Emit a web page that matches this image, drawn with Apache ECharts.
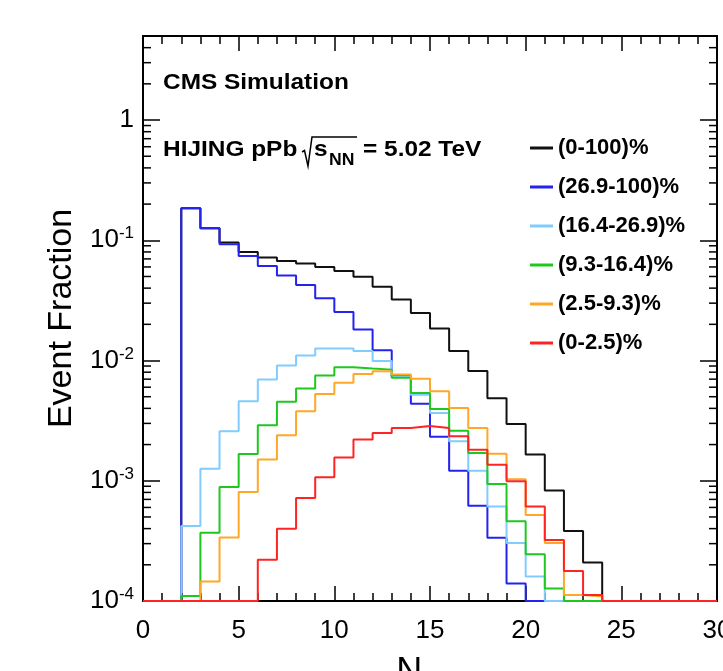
<!DOCTYPE html>
<html>
<head>
<meta charset="utf-8">
<title>Npart event fraction</title>
<script src="https://cdn.jsdelivr.net/npm/echarts@6/dist/echarts.min.js"></script>
<style>
    html, body { margin: 0; padding: 0; background: #fff; }
    #main { width: 723px; height: 671px; }
</style>
</head>
<body>
<div id="main"></div>
<script>
    // lower bin edges, bin width 1
    var binLow = [0, 1, 2, 3, 4, 5, 6, 7, 8, 9, 10, 11, 12, 13, 14, 15, 16, 17, 18, 19, 20, 21, 22, 23, 24, 25, 26, 27, 28, 29];
    var binWidth = 1;

    // event fraction per Npart bin (0 = empty bin)
    var frac0to100 = [0, 0, 0.185, 0.126, 0.096, 0.080, 0.0718, 0.0673, 0.064, 0.060, 0.0555, 0.0498, 0.0411, 0.0322, 0.0249, 0.0185, 0.0120, 0.0082, 0.00486, 0.00296, 0.00165, 0.00083, 0.000382, 0.000209, 0, 0, 0, 0, 0, 0];
    var frac26to100 = [0, 0, 0.185, 0.126, 0.0926, 0.074, 0.061, 0.051, 0.0424, 0.0329, 0.0253, 0.0181, 0.0122, 0.0074, 0.00438, 0.00232, 0.00121, 0.00062, 0.000335, 0.00014, 0, 0, 0, 0, 0, 0, 0, 0, 0, 0];
    var frac16to26 = [0, 0, 0.00042, 0.00126, 0.00258, 0.00458, 0.00695, 0.0091, 0.0110, 0.0126, 0.0126, 0.0120, 0.0099, 0.0073, 0.0052, 0.00366, 0.00213, 0.00121, 0.00061, 0.000303, 0.00016, 0, 0, 0, 0, 0, 0, 0, 0, 0];
    var frac9to16 = [0, 0, 0.00011, 0.00037, 0.000886, 0.00167, 0.00289, 0.00453, 0.00585, 0.0075, 0.0088, 0.00858, 0.0084, 0.0072, 0.00538, 0.00396, 0.00261, 0.0017, 0.00094, 0.00046, 0.000245, 0.000127, 0, 0, 0, 0, 0, 0, 0, 0];
    var frac2to9 = [0, 0, 0, 0.000145, 0.000337, 0.000805, 0.0015, 0.00239, 0.00378, 0.00527, 0.00652, 0.00774, 0.00815, 0.00764, 0.00705, 0.00555, 0.00403, 0.00275, 0.00168, 0.00103, 0.00052, 0.000303, 0.000112, 0.000109, 0, 0, 0, 0, 0, 0];
    var frac0to2 = [0, 0, 0, 0, 0, 0, 0.00022, 0.000398, 0.000718, 0.00107, 0.00156, 0.0022, 0.0025, 0.00275, 0.00285, 0.00275, 0.00234, 0.00181, 0.00136, 0.00099, 0.00061, 0.000322, 0.000178, 0.000112, 0, 0, 0, 0, 0, 0];

    var seriesNames = ['(0-100)%', '(26.9-100)%', '(16.4-26.9)%', '(9.3-16.4)%', '(2.5-9.3)%', '(0-2.5)%'];
    var seriesValues = [frac0to100, frac26to100, frac16to26, frac9to16, frac2to9, frac0to2];
    var seriesColors = ['#111111', '#2323f0', '#80ccff', '#1ec81e', '#ffa726', '#ff2424'];

    var xMin = 0, xMax = 30, xStep = 5;
    var yMin = 1e-4, yMax = 5;
    var yMinorMantissa = [2, 3, 4, 5, 6, 7, 8, 9];

    var fontFamily = '"Liberation Sans", Arial, Helvetica, sans-serif';

    function stepData(vals) {
        var pts = [];
        for (var i = 0; i < vals.length; i++) {
            pts.push([binLow[i], vals[i] > 0 ? vals[i] : yMin]);
        }
        pts.push([binLow[vals.length - 1] + binWidth, pts[pts.length - 1][1]]);
        return pts;
    }

    var minorTicks = [];
    for (var d = -4; d <= 0; d++) {
        for (var m = 0; m < yMinorMantissa.length; m++) {
            var v = yMinorMantissa[m] * Math.pow(10, d);
            if (v <= yMax) minorTicks.push([xMin, v]);
        }
    }

    function logLabel(v) {
        var lg = Math.log10(v);
        var e = Math.round(lg);
        if (Math.abs(lg - e) > 1e-6) return '';
        if (e === 0) return '{b|1}';
        return '{b|10}{sup|' + e + '}';
    }

    var axisColor = '#000';
    var chart = echarts.init(document.getElementById('main'));

    var series = [];
    for (var s = 0; s < seriesNames.length; s++) {
        series.push({
            name: seriesNames[s],
            type: 'line',
            step: 'end',
            data: stepData(seriesValues[s]),
            symbol: 'none',
            clip: false,
            color: seriesColors[s],
            lineStyle: { color: seriesColors[s], width: 2 },
            z: 3 + s
        });
    }
    series.push({
        name: 'minorTicks',
        type: 'custom',
        silent: true,
        z: 10,
        data: minorTicks,
        encode: { x: 0, y: 1 },
        renderItem: function (params, api) {
            var v = api.value(1);
            var pl = api.coord([xMin, v]);
            var pr = api.coord([xMax, v]);
            return {
                type: 'group',
                children: [
                    { type: 'line', shape: { x1: pl[0], y1: pl[1], x2: pl[0] + 8, y2: pl[1] }, style: { stroke: axisColor, lineWidth: 1.5 } },
                    { type: 'line', shape: { x1: pr[0], y1: pr[1], x2: pr[0] - 8, y2: pr[1] }, style: { stroke: axisColor, lineWidth: 1.5 } }
                ]
            };
        }
    });

    var xAxisBase = {
        type: 'value', min: xMin, max: xMax, interval: xStep,
        axisLine: { show: true, onZero: false, lineStyle: { color: axisColor, width: 2 } },
        axisTick: { show: true, inside: true, length: 15, lineStyle: { color: axisColor, width: 1.5 } },
        minorTick: { show: true, splitNumber: 5, length: 8, lineStyle: { color: axisColor, width: 1.5 } },
        splitLine: { show: false },
        minorSplitLine: { show: false }
    };
    var yAxisBase = {
        type: 'log', logBase: 10, min: yMin, max: yMax,
        axisLine: { show: true, onZero: false, lineStyle: { color: axisColor, width: 2 } },
        axisTick: { show: true, inside: true, length: 17, lineStyle: { color: axisColor, width: 1.5 } },
        splitLine: { show: false }
    };

    var boldText = { fontSize: 22, fontWeight: 'bold', fontFamily: fontFamily, fill: '#000', verticalAlign: 'middle' };

    var option = {
        animation: false,
        backgroundColor: '#fff',
        textStyle: { fontFamily: fontFamily },
        grid: { left: 143, right: 6, top: 36, bottom: 70, containLabel: false, outerBoundsMode: 'none',
            show: true, borderColor: axisColor, borderWidth: 2, backgroundColor: 'transparent' },
        legend: {
            data: seriesNames,
            orient: 'vertical',
            left: 525, top: 131,
            icon: 'rect',
            itemWidth: 23, itemHeight: 3,
            itemGap: 15,
            selectedMode: false,
            textStyle: { fontSize: 22, fontWeight: 'bold', color: '#000', lineHeight: 24, fontFamily: fontFamily }
        },
        xAxis: [
            Object.assign({}, xAxisBase, {
                position: 'bottom',
                name: '{n|N}{s|part}',
                nameLocation: 'middle',
                nameGap: 52,
                nameTextStyle: {
                    rich: {
                        n: { fontSize: 36, color: '#000', fontFamily: fontFamily, lineHeight: 40 },
                        s: { fontSize: 24, color: '#000', fontFamily: fontFamily, verticalAlign: 'bottom', lineHeight: 24 }
                    }
                },
                axisLabel: { show: true, fontSize: 26, margin: 17, color: '#000', fontFamily: fontFamily }
            }),
            Object.assign({}, xAxisBase, { position: 'top', axisLabel: { show: false } })
        ],
        yAxis: [
            Object.assign({}, yAxisBase, {
                position: 'left',
                name: 'Event Fraction',
                nameLocation: 'middle',
                nameGap: 58,
                nameTextStyle: { fontSize: 34, color: '#000', fontFamily: fontFamily },
                axisLabel: {
                    show: true, margin: 9, color: '#000',
                    formatter: logLabel,
                    rich: {
                        b: { fontSize: 26, color: '#000', fontFamily: fontFamily, lineHeight: 30 },
                        sup: { fontSize: 17, color: '#000', fontFamily: fontFamily, verticalAlign: 'top', lineHeight: 17 }
                    }
                }
            }),
            Object.assign({}, yAxisBase, { position: 'right', axisLabel: { show: false } })
        ],
        graphic: [
            { type: 'text', x: 163, y: 82.5, scaleX: 1.11, style: Object.assign({ text: 'CMS Simulation' }, boldText) },
            { type: 'text', x: 163, y: 150, scaleX: 1.11, style: Object.assign({ text: 'HIJING pPb' }, boldText) },
            { type: 'polyline', shape: { points: [[302, 152], [304.5, 150.5], [308, 166], [312, 137], [357, 137]] }, style: { stroke: '#000', lineWidth: 1.5, fill: null } },
            { type: 'text', x: 314, y: 150, scaleX: 1.11, style: Object.assign({ text: 's' }, boldText) },
            { type: 'text', x: 329, y: 161, scaleX: 1.1, style: { text: 'NN', fontSize: 16, fontWeight: 'bold', fontFamily: fontFamily, fill: '#000', verticalAlign: 'middle' } },
            { type: 'text', x: 363, y: 150, scaleX: 1.11, style: Object.assign({ text: '= 5.02 TeV' }, boldText) }
        ],
        series: series
    };

    chart.setOption(option);
</script>
</body>
</html>
